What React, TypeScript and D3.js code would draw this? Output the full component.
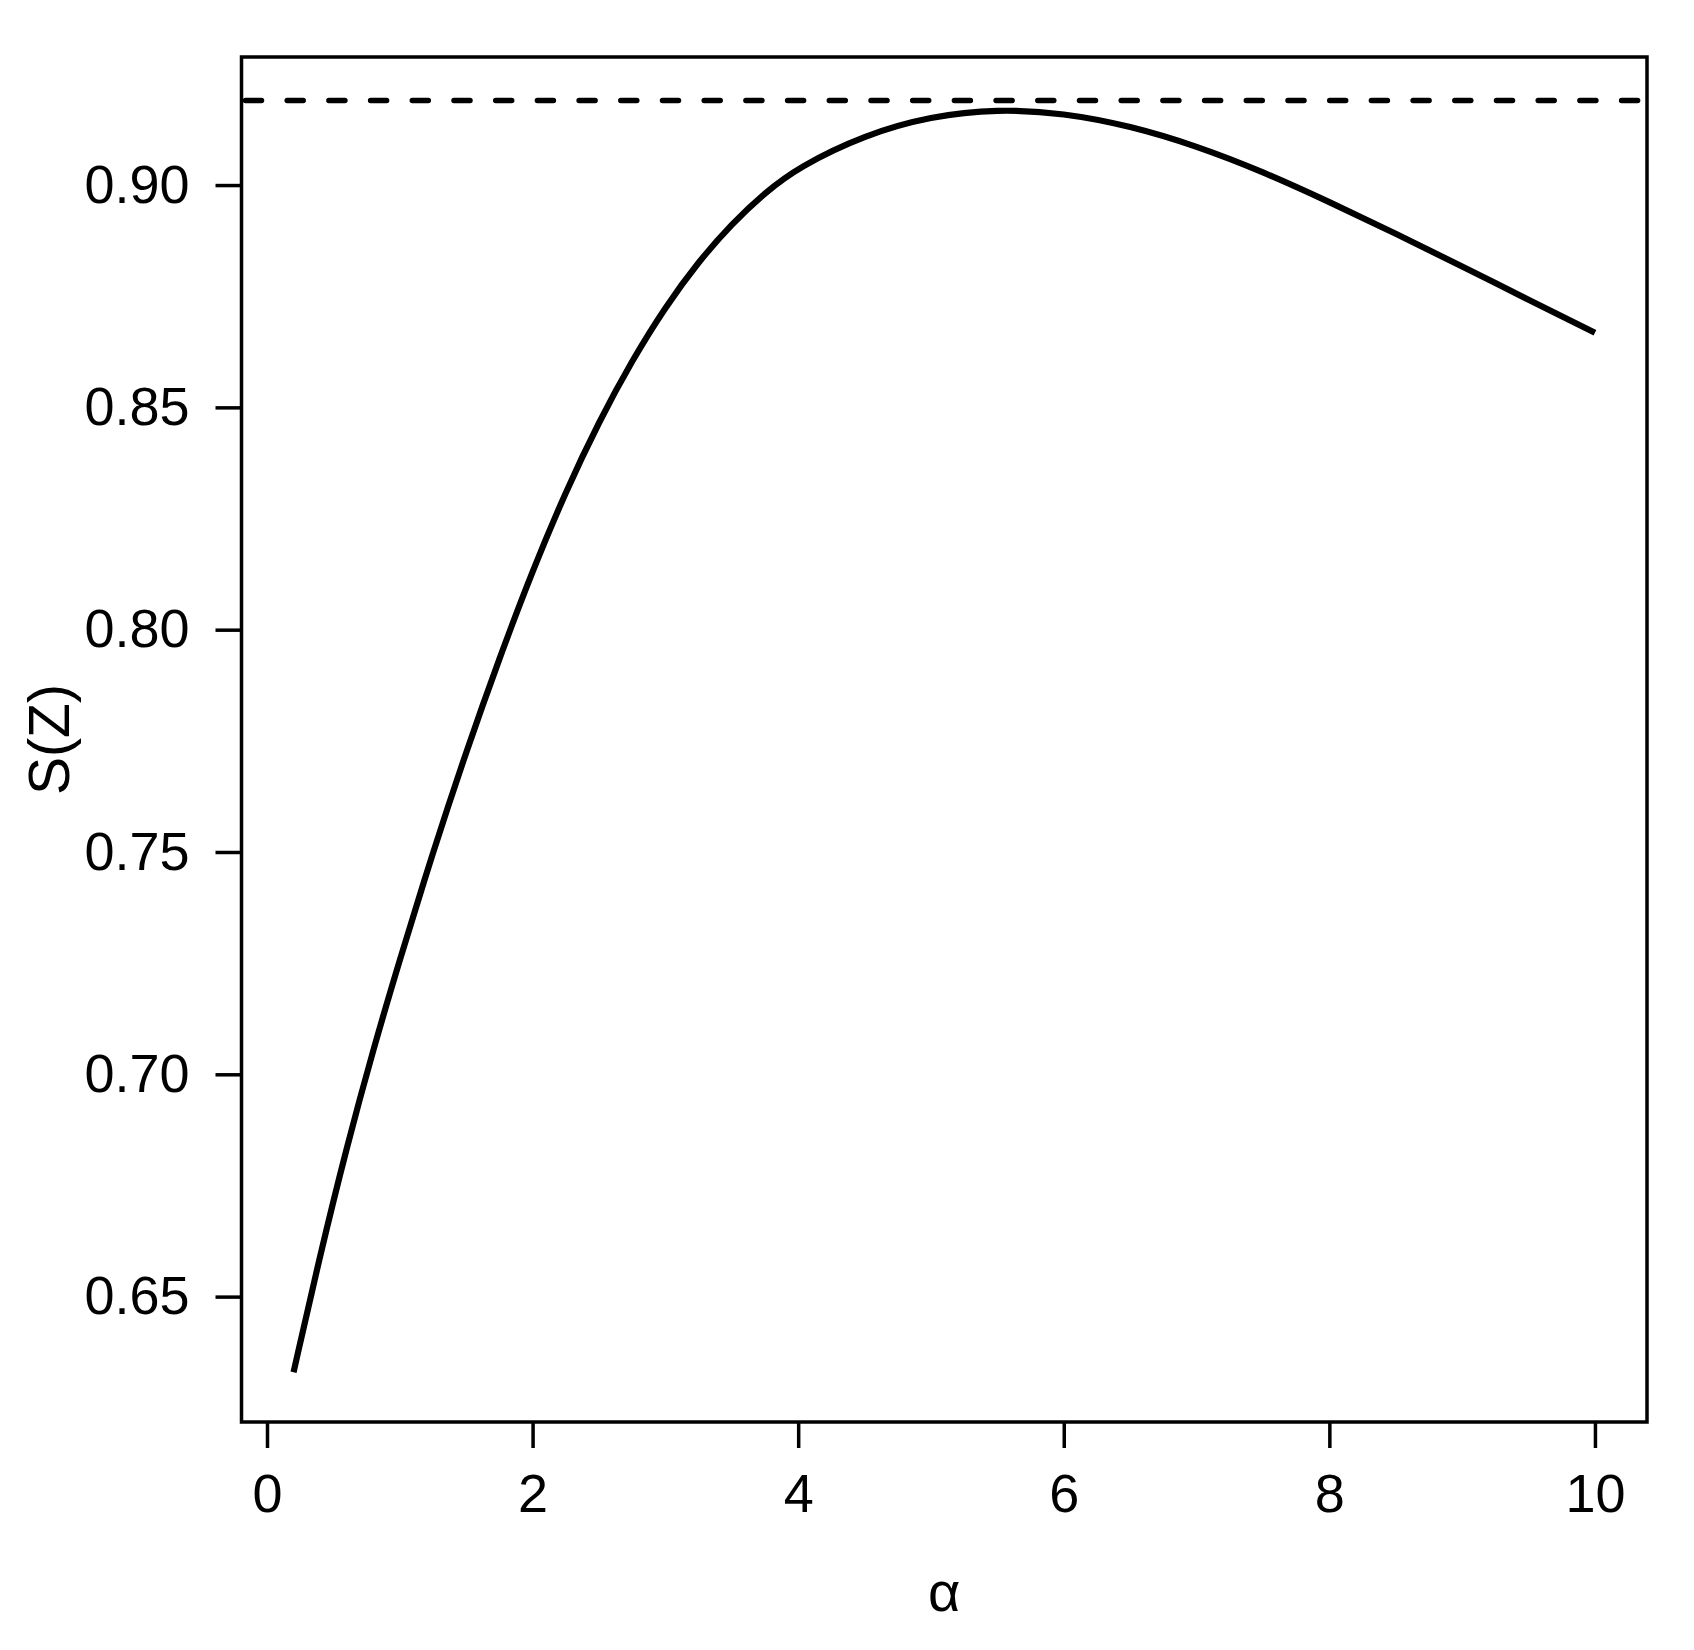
import * as d3 from "d3";
import { useEffect, useRef } from "react";

// curve: alpha vs S(Z)
const alphaValues = [
    0.2, 0.4, 0.6, 0.8, 1.0, 1.25, 1.5, 1.75, 2.0, 2.25, 2.5, 2.75, 3.0, 3.25, 3.5, 3.75, 4.0, 4.5,
    5.0, 5.5, 6.0, 6.5, 7.0, 7.5, 8.0, 8.5, 9.0, 9.5, 10.0,
];
const sValues = [
    0.633, 0.6594, 0.6836, 0.7056, 0.7258, 0.75, 0.7726, 0.7936, 0.8133, 0.8311, 0.8468, 0.8606,
    0.8726, 0.8828, 0.8913, 0.8983, 0.904, 0.9113, 0.9155, 0.9171, 0.9162, 0.9133, 0.9088, 0.903,
    0.8962, 0.8891, 0.8817, 0.8742, 0.8668,
];
const referenceLevel = 0.919;

const xTicks = [0, 2, 4, 6, 8, 10];
const yTicks = [0.65, 0.7, 0.75, 0.8, 0.85, 0.9];

const WIDTH = 1694;
const HEIGHT = 1650;
const FONT = "'Liberation Sans', Arial, Helvetica, sans-serif";

function drawChart(svgElement: SVGSVGElement) {
    const svg = d3.select(svgElement);
    svg.selectAll("*").remove();

    const plot = { left: 241.5, right: 1647, top: 57, bottom: 1422 };

    const x = d3.scaleLinear().domain([-0.192, 10.392]).range([plot.left, plot.right]);
    const y = d3.scaleLinear().domain([0.6218, 0.9288]).range([plot.bottom, plot.top]);

    svg.append("rect").attr("width", WIDTH).attr("height", HEIGHT).attr("fill", "#ffffff");

    // reference level (dashed)
    svg.append("line")
        .attr("x1", plot.left + 4)
        .attr("x2", plot.right)
        .attr("y1", y(referenceLevel))
        .attr("y2", y(referenceLevel))
        .attr("stroke", "#000")
        .attr("stroke-width", 5.5)
        .attr("stroke-linecap", "round")
        .attr("stroke-dasharray", "16,25.7");

    // curve
    const points = alphaValues.map((a, i) => [a, sValues[i]] as [number, number]);
    const line = d3
        .line<[number, number]>()
        .x((d) => x(d[0]))
        .y((d) => y(d[1]))
        .curve(d3.curveBasis);

    svg.append("path")
        .attr("d", line(points))
        .attr("fill", "none")
        .attr("stroke", "#000")
        .attr("stroke-width", 6.2)
        .attr("stroke-linejoin", "round");

    // box
    svg.append("rect")
        .attr("x", plot.left)
        .attr("y", plot.top)
        .attr("width", plot.right - plot.left)
        .attr("height", plot.bottom - plot.top)
        .attr("fill", "none")
        .attr("stroke", "#000")
        .attr("stroke-width", 3.5);

    // x axis
    const xAxis = svg
        .append("g")
        .attr("transform", `translate(0,${plot.bottom})`)
        .call(d3.axisBottom(x).tickValues(xTicks).tickSize(26).tickPadding(26).tickSizeOuter(0));
    xAxis.select(".domain").remove();
    xAxis.selectAll("line").attr("stroke", "#000").attr("stroke-width", 3.5);
    xAxis.selectAll("text")
        .style("font-family", FONT)
        .style("font-size", "54px")
        .style("fill", "#000");

    // y axis
    const yAxis = svg
        .append("g")
        .attr("transform", `translate(${plot.left},0)`)
        .call(
            d3
                .axisLeft(y)
                .tickValues(yTicks)
                .tickSize(26)
                .tickPadding(26)
                .tickFormat(d3.format(".2f"))
        );
    yAxis.select(".domain").remove();
    yAxis.selectAll("line").attr("stroke", "#000").attr("stroke-width", 3.5);
    yAxis.selectAll("text")
        .style("font-family", FONT)
        .style("font-size", "54px")
        .style("fill", "#000");

    // axis titles
    svg.append("text")
        .attr("x", (plot.left + plot.right) / 2)
        .attr("y", 1611)
        .attr("text-anchor", "middle")
        .style("font-family", FONT)
        .style("font-size", "56px")
        .text("α");

    svg.append("text")
        .attr("transform", `translate(69, ${(plot.top + plot.bottom) / 2}) rotate(-90)`)
        .attr("text-anchor", "middle")
        .style("font-family", FONT)
        .style("font-size", "57px")
        .text("S(Z)");
}

export default function App() {
    const chartRef = useRef<SVGSVGElement | null>(null);

    useEffect(() => {
        if (chartRef.current) {
            drawChart(chartRef.current);
        }
    }, []);

    return (
        <svg
            ref={chartRef}
            width={WIDTH}
            height={HEIGHT}
            style={{ position: "absolute", left: 0, top: 0 }}
        ></svg>
    );
}
